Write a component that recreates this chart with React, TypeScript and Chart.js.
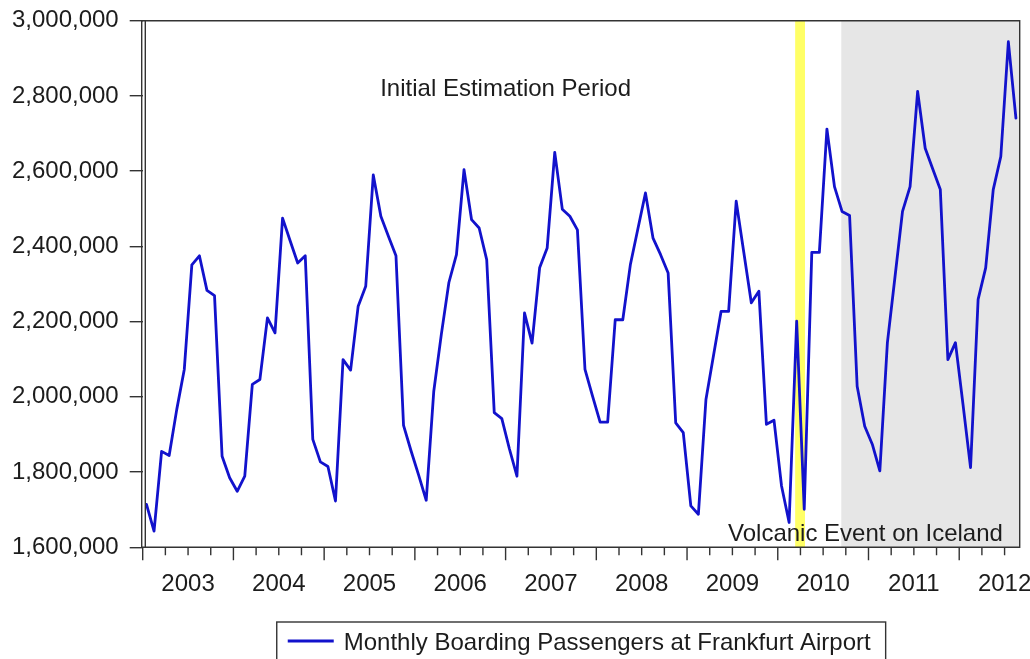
import React, { useEffect, useRef } from "react";
import { Chart, registerables } from "chart.js";

Chart.register(...registerables);

// ---------------- data ----------------
const SERIES_LABEL = "Monthly Boarding Passengers at Frankfurt Airport";
const START_YEAR = 2003;
const YEAR_LABELS = ["2003", "2004", "2005", "2006", "2007", "2008", "2009", "2010", "2011", "2012"];

const P2003 = [1714000, 1643000, 1855000, 1844000, 1966000, 2073000, 2351000, 2375000, 2283000, 2269000, 1842000, 1785000];
const P2004 = [1749000, 1789000, 2033000, 2046000, 2210000, 2170000, 2475000, 2415000, 2356000, 2375000, 1887000, 1827000];
const P2005 = [1815000, 1723000, 2099000, 2071000, 2241000, 2294000, 2590000, 2480000, 2427000, 2375000, 1924000, 1856000];
const P2006 = [1792000, 1725000, 2015000, 2166000, 2304000, 2378000, 2604000, 2471000, 2449000, 2365000, 1958000, 1942000];
const P2007 = [1862000, 1789000, 2223000, 2143000, 2343000, 2396000, 2650000, 2499000, 2480000, 2444000, 2073000, 2002000];
const P2008 = [1933000, 1933000, 2205000, 2205000, 2351000, 2447000, 2542000, 2422000, 2378000, 2329000, 1931000, 1905000];
const P2009 = [1710000, 1688000, 1993000, 2110000, 2227000, 2227000, 2520000, 2385000, 2250000, 2281000, 1927000, 1938000];
const P2010 = [1763000, 1666000, 2201000, 1701000, 2384000, 2384000, 2712000, 2559000, 2493000, 2482000, 2028000, 1922000];
const P2011 = [1874000, 1803000, 2144000, 2318000, 2493000, 2559000, 2812000, 2661000, 2606000, 2551000, 2099000, 2144000];
const P2012 = [1980000, 1812000, 2259000, 2343000, 2551000, 2639000, 2944000, 2741000];

const PASSENGERS = [...P2003, ...P2004, ...P2005, ...P2006, ...P2007, ...P2008, ...P2009, ...P2010, ...P2011, ...P2012];

const Y_MIN = 1600000;
const Y_MAX = 3000000;
const Y_STEP = 200000;

// month-index positions (0 = start of Jan 2003)
const TOTAL_MONTHS = PASSENGERS.length; // 116 -> through Aug 2012
const VOLCANO_BAND = [86.3, 87.6];
const FORECAST_START = 92.4;

const ANNOTATIONS = [
  { text: "Initial Estimation Period", x: 48, y: 2800000 },
  { text: "Volcanic Event on Iceland", x: 95.6, y: 1617000 },
];

// ---------------- styles ----------------
const FONT = "'Liberation Sans', Arial, sans-serif";
const TEXT_COLOR = "#1c1c1c";
const AXIS_COLOR = "#333333";
const LINE_COLOR = "#1212cc";

const chartPlugin = {
  id: "eviewsFrame",
  beforeDatasetsDraw(chart: any) {
    const { ctx, chartArea, scales } = chart;
    const { top, bottom, right } = chartArea;
    const x = scales.x;
    ctx.save();
    const gx = x.getPixelForValue(FORECAST_START);
    ctx.fillStyle = "#e6e6e6";
    ctx.fillRect(gx, top, right - gx, bottom - top);
    const v1 = x.getPixelForValue(VOLCANO_BAND[0]);
    const v2 = x.getPixelForValue(VOLCANO_BAND[1]);
    ctx.fillStyle = "#ffff66";
    ctx.fillRect(v1, top, v2 - v1, bottom - top);
    ctx.restore();
  },
  afterDatasetsDraw(chart: any) {
    const { ctx, chartArea, scales } = chart;
    const { left, right, top, bottom } = chartArea;
    const x = scales.x;
    const y = scales.y;
    ctx.save();

    // annotations
    ctx.fillStyle = TEXT_COLOR;
    ctx.font = `24px ${FONT}`;
    ctx.textAlign = "center";
    ctx.textBaseline = "alphabetic";
    for (const a of ANNOTATIONS) {
      ctx.fillText(a.text, x.getPixelForValue(a.x), y.getPixelForValue(a.y));
    }

    // frame
    ctx.strokeStyle = AXIS_COLOR;
    ctx.lineWidth = 1.4;
    ctx.beginPath();
    ctx.moveTo(left - 1, top);
    ctx.lineTo(right, top);
    ctx.lineTo(right, bottom);
    ctx.lineTo(left - 1, bottom);
    ctx.moveTo(left - 1, top);
    ctx.lineTo(left - 1, bottom);
    ctx.moveTo(left + 2.6, top);
    ctx.lineTo(left + 2.6, bottom);
    ctx.stroke();

    // x tick marks: quarterly, longer at year boundaries
    ctx.beginPath();
    for (let m = 0; m <= TOTAL_MONTHS; m += 3) {
      const px = x.getPixelForValue(m);
      const len = m % 12 === 0 ? 13 : 8;
      ctx.moveTo(px, bottom);
      ctx.lineTo(px, bottom + len);
    }
    ctx.stroke();

    // legend box
    const ds = chart.data.datasets[0];
    ctx.font = `24px ${FONT}`;
    const tw = ctx.measureText(ds.label).width;
    const padL = 11, sample = 46, gap = 10, padR = 15;
    const total = padL + sample + gap + tw + padR;
    const cx = (left + right) / 2;
    const bx = cx - total / 2;
    const by = 622;
    ctx.strokeStyle = AXIS_COLOR;
    ctx.lineWidth = 1.4;
    ctx.strokeRect(bx, by, total, 60);
    ctx.strokeStyle = ds.borderColor;
    ctx.lineWidth = 2.8;
    ctx.beginPath();
    ctx.moveTo(bx + padL, 641);
    ctx.lineTo(bx + padL + sample, 641);
    ctx.stroke();
    ctx.fillStyle = TEXT_COLOR;
    ctx.textAlign = "left";
    ctx.textBaseline = "alphabetic";
    ctx.fillText(ds.label, bx + padL + sample + gap, 649.5);

    ctx.restore();
  },
};

export default function App() {
  const canvasRef = useRef<HTMLCanvasElement | null>(null);

  useEffect(() => {
    if (!canvasRef.current) return;
    const points = PASSENGERS.map((v, i) => ({ x: i + 0.5, y: v }));
    const yearTicks = YEAR_LABELS.map((_, k) => k * 12 + 6);

    const chart = new Chart(canvasRef.current, {
      type: "line",
      data: {
        datasets: [
          {
            label: SERIES_LABEL,
            data: points,
            borderColor: LINE_COLOR,
            borderWidth: 2.8,
            borderJoinStyle: "round",
            borderCapStyle: "round",
            pointRadius: 0,
            tension: 0,
            fill: false,
          },
        ],
      },
      options: {
        animation: false,
        responsive: false,
        devicePixelRatio: 1,
        layout: { padding: { left: 0, right: 10.3, top: 20.7, bottom: 0 } },
        plugins: { legend: { display: false }, tooltip: { enabled: false } },
        scales: {
          x: {
            type: "linear",
            min: 0,
            max: TOTAL_MONTHS,
            grid: { display: false, drawTicks: false },
            border: { display: false },
            afterBuildTicks: (scale: any) => {
              scale.ticks = yearTicks.map((v) => ({ value: v }));
            },
            afterFit: (scale: any) => {
              scale.height = 111.7;
              scale.paddingLeft = 0;
              scale.paddingRight = 0;
            },
            ticks: {
              autoSkip: false,
              maxRotation: 0,
              minRotation: 0,
              padding: 23,
              color: TEXT_COLOR,
              font: { family: FONT, size: 24 },
              callback: (v: any) => String(START_YEAR + Math.floor(Number(v) / 12)),
            },
          },
          y: {
            min: Y_MIN,
            max: Y_MAX,
            grid: {
              display: true,
              drawOnChartArea: false,
              drawTicks: true,
              tickLength: 13,
              color: AXIS_COLOR,
              lineWidth: 1.4,
            },
            border: { display: false },
            afterFit: (scale: any) => {
              scale.width = 142.7;
              scale.paddingTop = 0;
              scale.paddingBottom = 0;
            },
            ticks: {
              stepSize: Y_STEP,
              padding: 11,
              color: TEXT_COLOR,
              font: { family: FONT, size: 24 },
              callback: (v: any) => Number(v).toLocaleString("en-US"),
            },
          },
        },
      },
      plugins: [chartPlugin],
    } as any);

    return () => chart.destroy();
  }, []);

  return (
    <div style={{ position: "fixed", left: 0, top: 0, width: 1030, height: 659, background: "#fff" }}>
      <canvas ref={canvasRef} width={1030} height={659} style={{ display: "block" }} />
    </div>
  );
}
